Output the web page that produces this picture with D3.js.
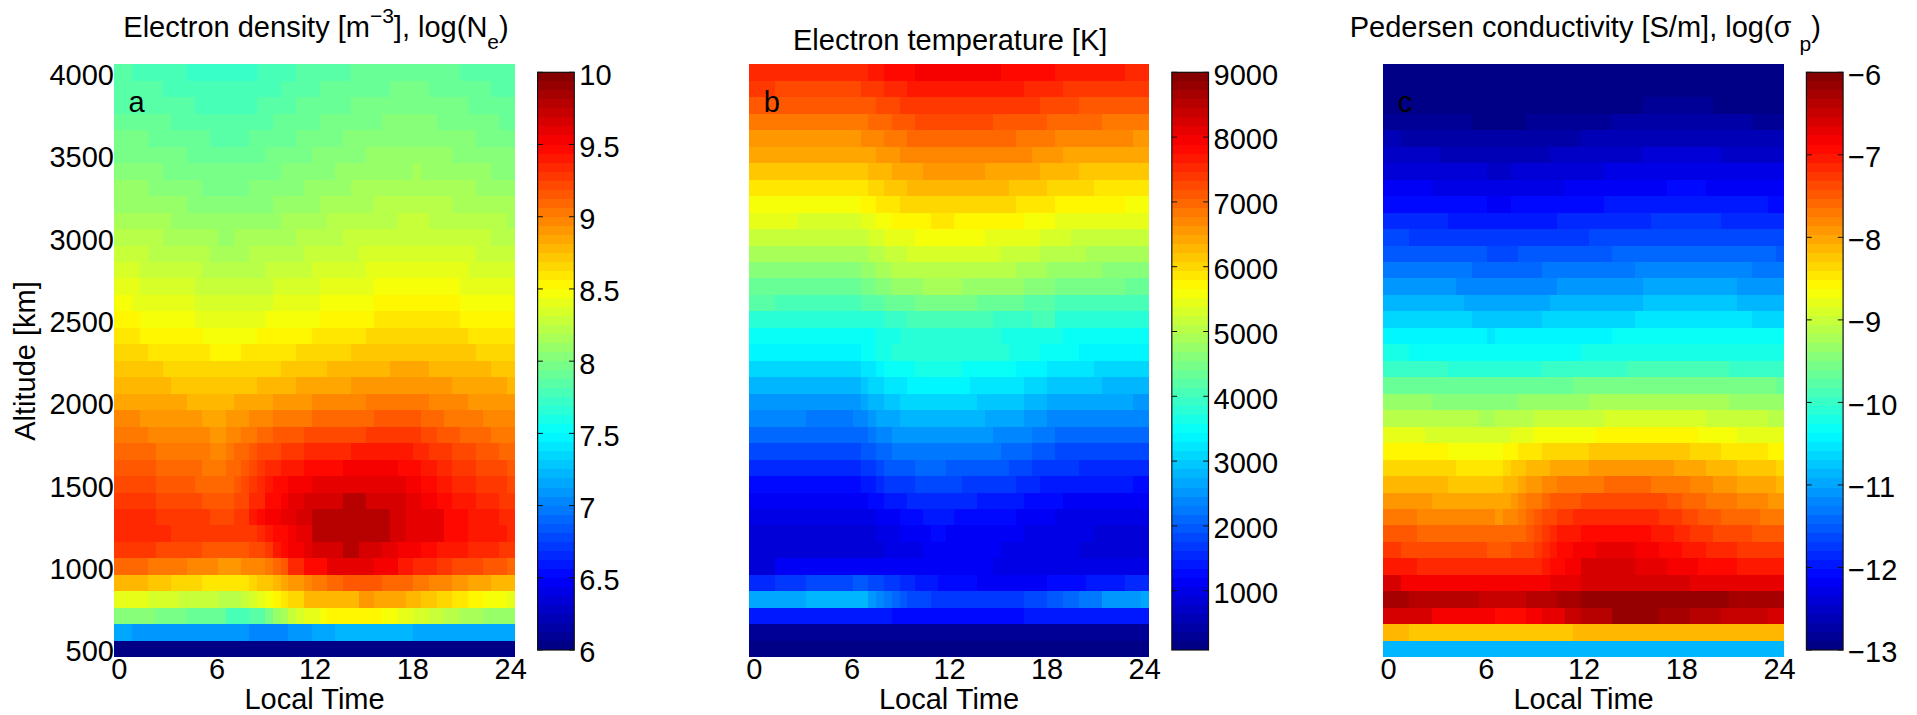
<!DOCTYPE html>
<html>
<head>
<meta charset="utf-8">
<script src="https://cdnjs.cloudflare.com/ajax/libs/d3/7.8.5/d3.min.js"></script>
<style>
  body { margin: 0; background: #fff; }
  text { font-family: "Liberation Sans", Arial, sans-serif; fill: #000; }
</style>
</head>
<body>
<div id="chart"></div>
<script>
// altitude of each row [km], top row first
const altitudes = [4000,3900,3800,3700,3600,3500,3400,3300,3200,3100,3000,2900,
  2800,2700,2600,2500,2400,2300,2200,2100,2000,1900,1800,1700,1600,1500,1400,1300,
  1200,1100,1000,900,800,700,600,500];

// boundaries between local time samples [h]
const timeEdges = [-0.14,0.34,0.82,1.30,1.78,2.26,2.73,3.21,3.69,4.17,4.65,5.13,
  5.61,6.09,6.56,7.04,7.52,8.00,8.48,8.96,9.44,9.92,10.39,10.87,11.35,11.83,12.31,
  12.79,13.27,13.75,14.22,14.70,15.18,15.66,16.14,16.62,17.10,17.58,18.05,18.53,
  19.01,19.49,19.97,20.45,20.93,21.41,21.88,22.36,22.84,23.32,23.80];

const timeTicks = [0,6,12,18,24];
const altitudeTicks = [500,1000,1500,2000,2500,3000,3500,4000];
const densityTicks = [6,6.5,7,7.5,8,8.5,9,9.5,10];
const temperatureTicks = [1000,2000,3000,4000,5000,6000,7000,8000,9000];
const conductivityTicks = [-13,-12,-11,-10,-9,-8,-7,-6];

// each row is run-length coded: value, index into timeEdges where it stops, next value, ...
// log10 of electron density
const densityRows = [
  [7.84,2,7.78,9,7.72,18,7.78,23,7.84,30,7.91,44,7.84],
  [7.84,6,7.78,21,7.84,26,7.91,35,7.97,40,7.91,48,7.84],
  [7.84,10,7.78,18,7.84,23,7.91,30,7.97,45,7.91],
  [7.91,7,7.84,20,7.91,26,7.97,34,8.03,41,7.97,49,7.91],
  [7.97,4,7.91,12,7.84,17,7.91,23,7.97,29,8.03,46,7.97],
  [7.97,9,7.91,19,7.97,25,8.03,32,8.09,43,8.03],
  [8.03,6,7.97,21,8.03,28,8.09,38,8.16,39,8.09,48,8.03],
  [8.09,4,8.03,11,7.97,17,8.03,24,8.09,30,8.16,46,8.09],
  [8.09,9,8.03,20,8.09,26,8.16,33,8.22,43,8.16],
  [8.16,7,8.09,21,8.16,27,8.22,36,8.28,40,8.22,50,8.16],
  [8.22,6,8.16,13,8.09,15,8.16,23,8.22,29,8.28,48,8.22],
  [8.28,4,8.22,12,8.16,17,8.22,24,8.28,31,8.34,46,8.28],
  [8.34,3,8.28,11,8.22,19,8.28,25,8.34,32,8.41,45,8.34],
  [8.41,3,8.34,10,8.28,20,8.34,26,8.41,33,8.47,44,8.41],
  [8.47,2,8.41,10,8.34,20,8.41,26,8.47,33,8.53,44,8.47],
  [8.53,3,8.47,10,8.41,19,8.47,26,8.53,33,8.59,44,8.53],
  [8.59,3,8.53,11,8.47,18,8.53,25,8.59,32,8.66,45,8.59],
  [8.66,4,8.59,12,8.53,16,8.59,23,8.66,30,8.72,46,8.66],
  [8.72,6,8.66,21,8.72,27,8.78,35,8.84,40,8.78,48,8.72],
  [8.78,7,8.72,18,8.78,23,8.84,30,8.91,43,8.84,50,8.78],
  [8.84,9,8.78,15,8.84,20,8.91,25,8.97,32,9.03,40,8.97,45,8.91],
  [8.97,3,8.91,11,8.84,14,8.91,17,8.97,20,9.03,25,9.09,33,9.16,39,9.09,42,9.03,47,8.97],
  [9.03,4,8.97,12,8.91,14,8.97,16,9.03,18,9.09,20,9.16,24,9.22,32,9.28,39,9.22,41,9.16,44,9.09,48,9.03],
  [9.09,5,9.03,12,8.97,14,9.03,15,9.09,17,9.16,18,9.22,21,9.28,24,9.34,30,9.41,38,9.34,40,9.28,43,9.22,46,9.16,49,9.09],
  [9.16,5,9.09,11,9.03,14,9.09,16,9.16,17,9.22,18,9.28,19,9.34,21,9.41,24,9.47,29,9.53,36,9.47,39,9.41,41,9.34,43,9.28,46,9.22,50,9.16],
  [9.22,5,9.16,10,9.09,15,9.16,16,9.22,17,9.28,18,9.34,19,9.41,20,9.47,22,9.53,25,9.59,37,9.53,39,9.47,41,9.41,43,9.34,46,9.28,50,9.22],
  [9.28,5,9.22,11,9.16,15,9.22,17,9.34,19,9.47,21,9.53,22,9.59,24,9.66,29,9.78,32,9.66,37,9.59,39,9.53,41,9.47,43,9.41,46,9.34,49,9.28],
  [9.34,5,9.28,12,9.22,15,9.28,17,9.41,18,9.47,19,9.53,21,9.59,23,9.66,25,9.78,35,9.66,37,9.59,42,9.47,45,9.41,49,9.34],
  [9.34,7,9.28,18,9.34,19,9.41,20,9.47,22,9.53,23,9.59,25,9.78,35,9.66,37,9.59,42,9.47,45,9.41,50,9.34],
  [9.28,5,9.22,11,9.16,17,9.22,19,9.28,20,9.41,21,9.47,22,9.53,24,9.59,25,9.66,29,9.78,31,9.66,34,9.59,36,9.53,39,9.47,41,9.41,45,9.34,49,9.28],
  [9.09,4,9.03,9,8.97,13,8.91,16,8.97,19,9.03,20,9.09,21,9.16,22,9.34,24,9.47,27,9.59,33,9.53,36,9.41,38,9.34,41,9.28,43,9.22,47,9.16,50,9.09],
  [8.78,4,8.72,7,8.66,11,8.59,17,8.66,18,8.72,20,8.78,21,8.84,22,8.91,24,8.97,25,9.03,27,9.09,29,9.16,34,9.09,38,9.03,40,8.97,43,8.91,45,8.84,48,8.78],
  [8.41,4,8.34,8,8.28,13,8.22,16,8.28,17,8.34,18,8.41,19,8.47,20,8.53,21,8.59,22,8.66,24,8.78,31,8.91,33,8.84,37,8.78,39,8.72,41,8.66,43,8.59,45,8.53,47,8.47,50,8.41],
  [8.03,5,7.97,9,7.91,14,7.78,17,7.84,19,7.97,20,8.09,21,8.16,22,8.28,23,8.34,24,8.41,26,8.47,27,8.53,34,8.47,36,8.41,38,8.34,40,8.28,42,8.22,44,8.16,47,8.09],
  [7.16,2,7.09,17,7.03,22,7.09,25,7.16,28,7.22,38,7.16],
  [6.03]
];

// electron temperature [K]
const temperatureRows = [
  [7538,15,7677,17,7817,21,7956,32,7817,39,7677,48,7538],
  [7399,3,7259,14,7399,17,7538,20,7677,35,7538,40,7399],
  [7120,16,7259,19,7399,37,7259,42,7120],
  [6841,15,6981,18,7120,21,7259,31,7120,38,6981,45,6841],
  [6563,14,6702,17,6841,20,6981,34,6841,39,6702,49,6563],
  [6423,16,6563,19,6702,36,6563,40,6423],
  [6145,15,6284,18,6423,22,6563,30,6423,37,6284,42,6145],
  [5866,15,6006,17,6145,20,6284,33,6145,38,6006,44,5866],
  [5588,14,5727,16,5866,19,6006,34,5866,39,5727,48,5588],
  [5448,6,5309,14,5448,16,5588,18,5727,23,5866,26,5727,35,5588,39,5448],
  [5170,15,5309,17,5448,21,5588,30,5448,37,5309,41,5170],
  [4891,15,5030,17,5170,20,5309,32,5170,37,5030,43,4891],
  [4612,14,4752,16,4891,18,5030,34,4891,38,4752,45,4612],
  [4334,14,4473,16,4612,18,4752,22,4891,27,4752,35,4612,39,4473,48,4334],
  [4195,3,4055,14,4195,17,4334,21,4473,29,4334,35,4195,39,4055],
  [3777,17,3916,20,4055,31,3916,36,4055,39,3777],
  [3498,16,3637,19,3777,32,3637,40,3498],
  [3359,14,3498,16,3637,18,3777,33,3637,37,3498,42,3359],
  [3080,14,3219,16,3359,17,3498,21,3637,27,3498,34,3359,38,3219,44,3080],
  [2801,14,2941,15,3080,17,3219,20,3359,28,3219,35,3080,38,2941,45,2801],
  [2523,14,2662,15,2801,17,2941,19,3080,29,2941,35,2801,38,2662,49,2523],
  [2384,7,2244,13,2384,15,2523,16,2662,19,2801,30,2662,35,2523,38,2384],
  [2105,15,2244,16,2384,18,2523,31,2384,36,2244,39,2105],
  [1826,14,1966,16,2105,18,2244,32,2105,36,1966,39,1826],
  [1548,14,1687,16,1826,17,1966,21,2105,25,1966,33,1826,36,1687,42,1548],
  [1269,14,1408,16,1548,17,1687,21,1826,27,1687,34,1548,37,1408,49,1269],
  [1130,15,1269,17,1408,20,1548,29,1408,35,1269,40,1130],
  [990,16,1130,19,1269,22,1408,26,1269,34,1130,39,990],
  [851,16,990,19,1130,23,1269,25,1130,35,990,44,851],
  [851,17,990,22,1130,32,990,42,851],
  [851,3,1130,31,990],
  [1548,3,1687,7,1826,13,1966,15,1826,17,1687,19,1548,21,1408,24,1269,29,1130,38,1269,43,1408,48,1548],
  [2662,7,2801,15,2523,16,2384,17,2244,18,2105,19,1966,20,1826,23,1687,35,1826,38,1966,40,2105,42,2244,45,2523,50,2662],
  [1408,18,1269,35,1408],
  [294],
  [155]
];

// log10 of Pedersen conductivity
const conductivityRows = [
  [-12.95],
  [-12.95],
  [-12.95,33,-12.84,42,-12.95],
  [-12.84,11,-12.95,18,-12.84,29,-12.73,47,-12.84],
  [-12.62,2,-12.73,25,-12.62],
  [-12.51,7,-12.62,21,-12.51,33,-12.40,43,-12.51],
  [-12.40,13,-12.51,16,-12.40,28,-12.29],
  [-12.18,6,-12.29,23,-12.18,36,-12.07,41,-12.18],
  [-12.07,13,-12.18,16,-12.07,28,-11.96,49,-12.07],
  [-11.85,8,-11.96,22,-11.85,34,-11.74,43,-11.85],
  [-11.63,3,-11.74,26,-11.63],
  [-11.52,13,-11.63,17,-11.52,29,-11.41,50,-11.52],
  [-11.30,11,-11.41,20,-11.30,32,-11.20,47,-11.30],
  [-11.09,9,-11.20,22,-11.09,33,-10.98,45,-11.09],
  [-10.87,10,-10.98,21,-10.87,33,-10.76,45,-10.87],
  [-10.65,11,-10.76,20,-10.65,32,-10.54,47,-10.65],
  [-10.43,13,-10.54,14,-10.43,29,-10.32],
  [-10.21,3,-10.32,25,-10.21],
  [-9.99,8,-10.10,20,-9.99,31,-9.88,44,-9.99],
  [-9.66,24,-9.55,50,-9.66],
  [-9.34,6,-9.45,17,-9.34,26,-9.23,44,-9.34],
  [-9.12,12,-9.23,14,-9.12,19,-9.01,28,-8.90,41,-9.01,49,-9.12],
  [-8.79,5,-8.90,16,-8.79,19,-8.68,27,-8.57,40,-8.68,45,-8.79],
  [-8.57,8,-8.68,15,-8.57,17,-8.46,20,-8.35,26,-8.24,39,-8.35,43,-8.46,49,-8.57],
  [-8.35,9,-8.46,15,-8.35,16,-8.24,18,-8.13,21,-8.02,26,-7.91,37,-8.02,41,-8.13,45,-8.24,50,-8.35],
  [-8.13,8,-8.24,15,-8.13,17,-8.02,18,-7.91,20,-7.80,22,-7.70,28,-7.59,34,-7.70,39,-7.80,42,-7.91,45,-8.02,50,-8.13],
  [-7.91,6,-8.02,16,-7.91,17,-7.80,18,-7.70,20,-7.59,21,-7.48,25,-7.37,36,-7.48,38,-7.59,41,-7.70,45,-7.80,49,-7.91],
  [-7.70,4,-7.80,14,-7.91,15,-7.80,17,-7.70,18,-7.59,19,-7.48,20,-7.37,22,-7.26,24,-7.15,35,-7.26,38,-7.37,40,-7.48,43,-7.59,48,-7.70],
  [-7.48,4,-7.59,18,-7.48,19,-7.37,20,-7.26,21,-7.15,22,-7.04,25,-6.93,34,-7.04,37,-7.15,39,-7.26,42,-7.37,47,-7.48],
  [-7.26,2,-7.37,13,-7.48,16,-7.37,19,-7.26,20,-7.15,21,-7.04,22,-6.93,24,-6.82,27,-6.71,32,-6.82,35,-6.93,38,-7.04,41,-7.15,45,-7.26],
  [-7.04,4,-7.15,20,-7.04,21,-6.93,23,-6.82,25,-6.60,32,-6.71,36,-6.82,40,-6.93,45,-7.04],
  [-6.60,2,-6.82,21,-6.71,25,-6.60,39,-6.71],
  [-6.27,3,-6.38,12,-6.49,18,-6.38,22,-6.27,25,-6.16,44,-6.27],
  [-6.60,6,-6.82,14,-6.93,18,-6.82,20,-6.71,23,-6.49,25,-6.38,29,-6.16,35,-6.27,39,-6.38,43,-6.49,49,-6.60],
  [-8.13,3,-8.24,24,-8.13],
  [-10.87]
];

var svgWidth = 1917;
var svgHeight = 715;
var fontSize = 29;

// same look as the 64 level jet colormap
function jetColor(i) {
    let t = (i + 0.5) / 64;
    let chan = c => Math.round(255 * Math.max(0, Math.min(1, 1.5 - Math.abs(4 * t - c))));
    return `rgb(${chan(3)},${chan(2)},${chan(1)})`;
}
var jet = d3.range(64).map(jetColor);

var svg = d3.select("#chart")
    .append("svg")
    .attr("width", svgWidth)
    .attr("height", svgHeight);

var plotTop = 64.4, plotBottom = 657.2;
var barTop = 72.3, barBottom = 650;
var barWidth = 36.7;
var yScale = d3.scaleLinear().domain([450, 4050]).range([plotBottom, plotTop]);

function drawPanel(p) {
    let xScale = d3.scaleLinear().domain([-0.3, 24.3]).range([p.left, p.right]);
    let color = d3.scaleQuantize().domain(p.domain).range(jet);

    // expand the run-length rows into cells
    let cells = [];
    p.rows.forEach((row, r) => {
        let start = xScale.domain()[0];
        for (let i = 0; i < row.length; i += 2) {
            let end = i + 1 < row.length ? timeEdges[row[i + 1]] : xScale.domain()[1];
            cells.push({alt: altitudes[r], t0: start, t1: end, value: row[i]});
            start = end;
        }
    });

    svg.append("g")
        .attr("shape-rendering", "crispEdges")
        .selectAll("rect")
        .data(cells)
        .enter()
        .append("rect")
        .attr("x", d => xScale(d.t0))
        .attr("width", d => xScale(d.t1) - xScale(d.t0))
        .attr("y", d => yScale(d.alt + 50))
        .attr("height", d => yScale(d.alt - 50) - yScale(d.alt + 50))
        .attr("fill", d => color(d.value));

    // x axis, no tick marks
    let xAxis = svg.append("g")
        .attr("transform", `translate(0, ${plotBottom})`)
        .call(d3.axisBottom(xScale).tickValues(timeTicks).tickSize(0).tickPadding(1.5));
    xAxis.select(".domain").remove();
    xAxis.selectAll("text")
        .style("font-size", fontSize + "px");

    svg.append("text")
        .attr("transform", `translate(${(p.left + p.right) / 2}, 709)`)
        .attr("text-anchor", "middle")
        .style("font-size", fontSize + "px")
        .text("Local Time");

    // title, built from pieces for the super and subscripts
    let title = svg.append("text")
        .attr("transform", `translate(${p.titleX}, ${p.titleY})`)
        .style("font-size", fontSize + "px");
    p.title.forEach(part => {
        title.append("tspan")
            .attr("dy", part.dy || 0)
            .style("font-size", part.size ? part.size + "px" : null)
            .text(part.text);
    });

    // panel letter
    svg.append("text")
        .attr("transform", `translate(${p.left + 14.7}, 111.5)`)
        .style("font-size", fontSize + "px")
        .text(p.letter);

    // colorbar
    let barScale = d3.scaleLinear().domain(p.domain).range([barBottom, barTop]);
    let bar = svg.append("g");
    bar.append("g")
        .attr("shape-rendering", "crispEdges")
        .selectAll("rect")
        .data(jet)
        .enter()
        .append("rect")
        .attr("x", p.barX)
        .attr("width", barWidth)
        .attr("y", d => barScale(color.invertExtent(d)[1]))
        .attr("height", d => barScale(color.invertExtent(d)[0]) - barScale(color.invertExtent(d)[1]))
        .attr("fill", d => d);
    bar.append("rect")
        .attr("x", p.barX)
        .attr("y", barTop)
        .attr("width", barWidth)
        .attr("height", barBottom - barTop)
        .attr("fill", "none")
        .attr("stroke", "#111")
        .attr("stroke-width", 1.2);

    let barAxis = svg.append("g")
        .attr("transform", `translate(${p.barX + barWidth}, 0)`)
        .call(d3.axisRight(barScale).tickValues(p.ticks).tickSize(0).tickPadding(5)
            .tickFormat(p.format));
    barAxis.select(".domain").remove();
    barAxis.selectAll("text")
        .attr("dy", ".41em")
        .style("font-size", fontSize + "px");

    // inner tick marks on both sides of the colorbar
    [[p.barX, 5.3], [p.barX + barWidth, -5.3]].forEach(side => {
        bar.selectAll(null)
            .data(p.ticks)
            .enter()
            .append("line")
            .attr("x1", side[0])
            .attr("x2", side[0] + side[1])
            .attr("y1", d => barScale(d))
            .attr("y2", d => barScale(d))
            .attr("stroke", "#111")
            .attr("stroke-width", 1);
    });

    return xScale;
}

var plain = d3.format("d");

drawPanel({
    rows: densityRows, domain: [6, 10], ticks: densityTicks, format: d3.format("~g"),
    left: 113.9, right: 515.1, barX: 537.6, letter: "a",
    titleX: 123.3, titleY: 37,
    title: [
        {text: "Electron density [m"},
        {text: "\u22123", size: 21, dy: -14},
        {text: "], log(N", dy: 14},
        {text: "e", size: 21, dy: 12},
        {text: ")", dy: -12}
    ]
});

drawPanel({
    rows: temperatureRows, domain: [85, 9000], ticks: temperatureTicks, format: plain,
    left: 749, right: 1149, barX: 1171.8, letter: "b",
    titleX: 793, titleY: 50,
    title: [{text: "Electron temperature [K]"}]
});

drawPanel({
    rows: conductivityRows, domain: [-13, -6], ticks: conductivityTicks,
    format: d => "\u2212" + Math.abs(d),
    left: 1383.1, right: 1784, barX: 1806.4, letter: "c",
    titleX: 1349.7, titleY: 37,
    title: [
        {text: "Pedersen conductivity [S/m], log(\u03c3 "},
        {text: "p", size: 21, dy: 14},
        {text: ")", dy: -14}
    ]
});

// y axis only on the first panel
var yAxis = svg.append("g")
    .attr("transform", "translate(113.9, 0)")
    .call(d3.axisLeft(yScale).tickValues(altitudeTicks).tickSize(0).tickPadding(0).tickFormat(plain));
yAxis.select(".domain").remove();
yAxis.selectAll("text")
    .attr("dy", ".41em")
    .style("font-size", fontSize + "px");

svg.append("text")
    .attr("transform", "translate(34.7, 361) rotate(-90)")
    .attr("text-anchor", "middle")
    .style("font-size", fontSize + "px")
    .text("Altitude [km]");
</script>
</body>
</html>
